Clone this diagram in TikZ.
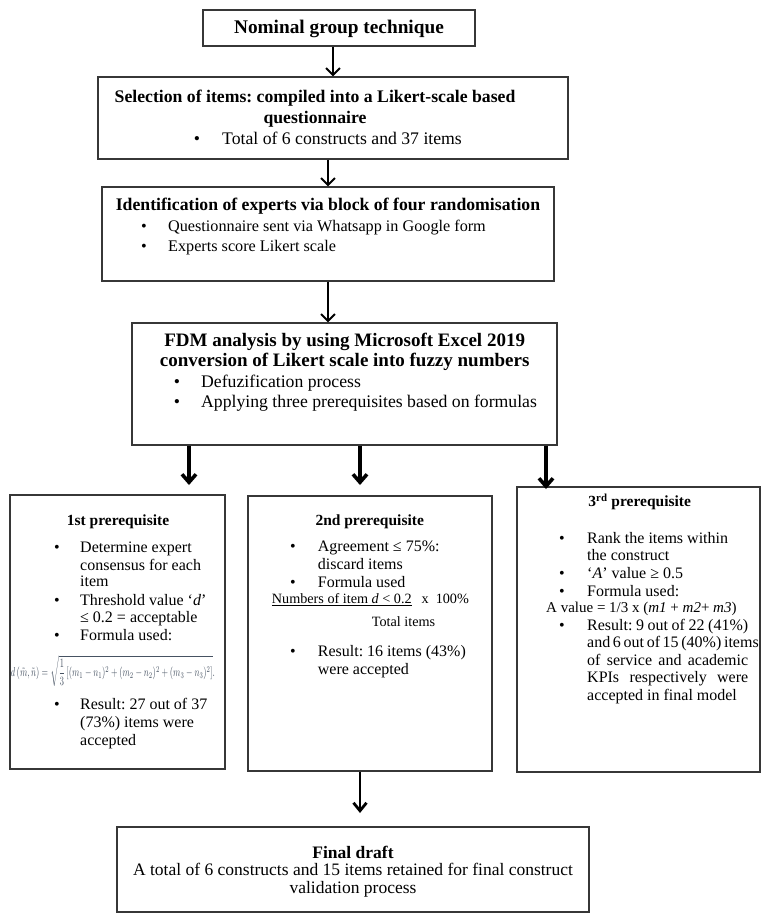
\documentclass[tikz,border=0pt]{standalone}
\usepackage{fontspec}
\setmainfont{Liberation Serif}
\usepackage{graphicx}
\usetikzlibrary{arrows.meta}
\definecolor{boxline}{RGB}{55,55,55}
\definecolor{formulacol}{RGB}{70,82,98}
\frenchspacing
\tikzset{
  boxst/.style={draw=boxline, line width=1.3pt, inner sep=0pt},
  arrsmall/.style={line width=1.9pt, -{Straight Barb[length=7pt,width=14pt]}},
  arrbig/.style={line width=3.6pt, -{Straight Barb[length=8pt,width=14pt]}},
  arrmid/.style={line width=2.8pt, -{Straight Barb[length=8pt,width=13pt]}},
  txt/.style={inner sep=0pt, anchor=base},
  txtl/.style={inner sep=0pt, anchor=base west},
  titlef/.style={font=\fontsize{19.3}{21}\selectfont\bfseries},
  bigf/.style={font=\fontsize{17.7}{21}\selectfont},
  bigb/.style={font=\fontsize{17.7}{21}\selectfont\bfseries},
  hugeb/.style={font=\fontsize{19}{21}\selectfont\bfseries},
  smf/.style={font=\fontsize{16.2}{20}\selectfont},
  midf/.style={font=\fontsize{16}{17.5}\selectfont},
  midb/.style={font=\fontsize{15.5}{17.5}\selectfont\bfseries},
  frmf/.style={font=\fontsize{14.2}{17}\selectfont},
  frmg/.style={font=\fontsize{15}{17}\selectfont},
  finf/.style={font=\fontsize{17.5}{18}\selectfont},
  finb/.style={font=\fontsize{17.5}{18}\selectfont\bfseries},
}
\begin{document}
\begin{tikzpicture}[x=1pt,y=-1pt]
\fill[white] (0,0) rectangle (769,922);
\useasboundingbox (0,0) rectangle (769,922);

% boxes
\node[boxst, minimum width=272pt, minimum height=36pt] (b1) at (339,28) {};
\node[boxst, minimum width=470pt, minimum height=82pt] (b2) at (333,118) {};
\node[boxst, minimum width=452pt, minimum height=94pt] (b3) at (328,234) {};
\node[boxst, minimum width=425pt, minimum height=122pt] (b4) at (344.5,384) {};
\node[boxst, minimum width=215pt, minimum height=274pt] (b5) at (117.5,632) {};
\node[boxst, minimum width=244pt, minimum height=275pt] (b6) at (370,633.5) {};
\node[boxst, minimum width=243pt, minimum height=285pt] (b7) at (638.5,629.5) {};
\node[boxst, minimum width=472pt, minimum height=85pt] (b8) at (353,869.5) {};

% box 1
\node[txt,titlef] (t1) at (339,33.5) {Nominal group technique};

% box 2
\node[txt,bigb] (t2a) at (315,102.5) {Selection of items: compiled into a Likert-scale based};
\node[txt,bigb] (t2b) at (315,123) {questionnaire};
\node[txt,bigf] (t2u) at (197,144) {\textbullet};
\node[txtl,bigf] (t2c) at (222,144) {Total of 6 constructs and 37 items};

% box 3
\node[txt,bigb] (t3a) at (328,210) {Identification of experts via block of four randomisation};
\node[txt,smf] (t3u1) at (144,231.5) {\textbullet};
\node[txtl,smf] (t3b) at (168,231.5) {Questionnaire sent via Whatsapp in Google form};
\node[txt,smf] (t3u2) at (144,251.5) {\textbullet};
\node[txtl,smf] (t3c) at (168,251.5) {Experts score Likert scale};

% box 4
\node[txt,hugeb] (t4a) at (344.7,346.7) {FDM analysis by using Microsoft Excel 2019};
\node[txt,hugeb] (t4b) at (344.7,366.5) {conversion of Likert scale into fuzzy numbers};
\node[txt,bigf] (t4u1) at (177,387.3) {\textbullet};
\node[txtl,bigf] (t4c) at (201,387.3) {Defuzification process};
\node[txt,bigf] (t4u2) at (177,407.3) {\textbullet};
\node[txtl,bigf] (t4d) at (201,407.3) {Applying three prerequisites based on formulas};

% box 5
\node[txt,midb] (t5h) at (118,525) {1st prerequisite};
\node[txt,midf] (t5u1) at (57,552.7) {\textbullet};
\node[txtl,midf] (t5a) at (80,552.7) {Determine expert};
\node[txtl,midf] (t5b) at (80,570) {consensus for each};
\node[txtl,midf] (t5c) at (80,586.7) {item};
\node[txt,midf] (t5u2) at (57,605) {\textbullet};
\node[txtl,midf] (t5d) at (80,605) {Threshold value `\textit{d}'};
\node[txtl,midf] (t5e) at (80,622.7) {≤ 0.2 = acceptable};
\node[txt,midf] (t5u3) at (57,640) {\textbullet};
\node[txtl,midf] (t5f) at (80,640) {Formula used:};
\node[inner sep=0pt, text=formulacol] (t5g) at (113,671) {\resizebox*{204pt}{31pt}{$\displaystyle d\left(\tilde{m},\tilde{n}\right)=\sqrt{\frac{1}{3}\left[(m_1-n_1)^2+(m_2-n_2)^2+(m_3-n_3)^2\right]}.$}};
\node[txt,midf] (t5u4) at (57,709.3) {\textbullet};
\node[txtl,midf] (t5i) at (80,709.3) {Result: 27 out of 37};
\node[txtl,midf] (t5j) at (80,727.3) {(73\%) items were};
\node[txtl,midf] (t5k) at (80,745) {accepted};

% box 6
\node[txt,midb] (t6h) at (369.7,525) {2nd prerequisite};
\node[txt,midf] (t6u1) at (293,551.7) {\textbullet};
\node[txtl,midf] (t6a) at (317.7,551.7) {Agreement ≤ 75\%:};
\node[txtl,midf] (t6b) at (317.7,569.3) {discard items};
\node[txt,midf] (t6u2) at (293,587.3) {\textbullet};
\node[txtl,midf] (t6c) at (317.7,587.3) {Formula used};
\node[txtl,frmf] (t6d) at (271.7,603.3) {\underline{Numbers of item \textit{d} < 0.2}\hspace{10pt}x\hspace{7pt}100\%};
\node[txtl,frmf] (t6e) at (371.7,626.7) {Total items};
\node[txt,midf] (t6u3) at (293,656.7) {\textbullet};
\node[txtl,midf] (t6f) at (317.7,656.7) {Result: 16 items (43\%)};
\node[txtl,midf] (t6g) at (317.7,674.3) {were accepted};

% box 7
\node[txt,midb] (t7h) at (639.7,506.7) {3\textsuperscript{rd} prerequisite};
\node[txt,midf] (t7u1) at (562,543.3) {\textbullet};
\node[txtl,midf] (t7a) at (587,543.3) {Rank the items within};
\node[txtl,midf] (t7b) at (587,560.7) {the construct};
\node[txt,midf] (t7u2) at (562,578.3) {\textbullet};
\node[txtl,midf] (t7c) at (587,578.3) {`\textit{A}' value ≥ 0.5};
\node[txt,midf] (t7u3) at (562,596) {\textbullet};
\node[txtl,midf] (t7d) at (587,596) {Formula used:};
\node[txtl,frmg] (t7e) at (546,612.7) {A value = 1/3 x (\textit{m1} + \textit{m2}+ \textit{m3})};
\node[txt,midf] (t7u4) at (562,630) {\textbullet};
\node[txtl,midf] (t7f) at (587,630) {\makebox[161pt][s]{Result: 9 out of 22 (41\%)}};
\node[txtl,midf] (t7g) at (587,647.3) {\makebox[161pt][s]{and 6 out of 15 (40\%) items}};
\node[txtl,midf] (t7i) at (587,665) {\makebox[161pt][s]{of service and academic}};
\node[txtl,midf] (t7j) at (587,682.7) {\makebox[161pt][s]{KPIs respectively were}};
\node[txtl,midf] (t7k) at (587,700) {accepted in final model};

% final box
\node[txt,finb] (t8a) at (353,858) {Final draft};
\node[txt,finf] (t8b) at (353,875.5) {A total of 6 constructs and 15 items retained for final construct};
\node[txt,finf] (t8c) at (353,893) {validation process};

% connectors
\coordinate (p1) at (189,485);
\coordinate (p2) at (360,485);
\coordinate (p3) at (546,489);
\coordinate (pf) at (360,813);
\draw[arrsmall] (b1.south -| b2.north) -- (b2.north);
\draw[arrsmall] (b2.south -| b3.north) -- (b3.north);
\draw[arrsmall] (b3.south) -- (b3.south |- b4.north);
\draw[arrbig] (b4.south -| p1) -- (p1);
\draw[arrbig] (b4.south -| p2) -- (p2);
\draw[arrbig] (b4.south -| p3) -- (p3);
\draw[arrmid] (b6.south -| pf) -- (pf);
\end{tikzpicture}
\end{document}
